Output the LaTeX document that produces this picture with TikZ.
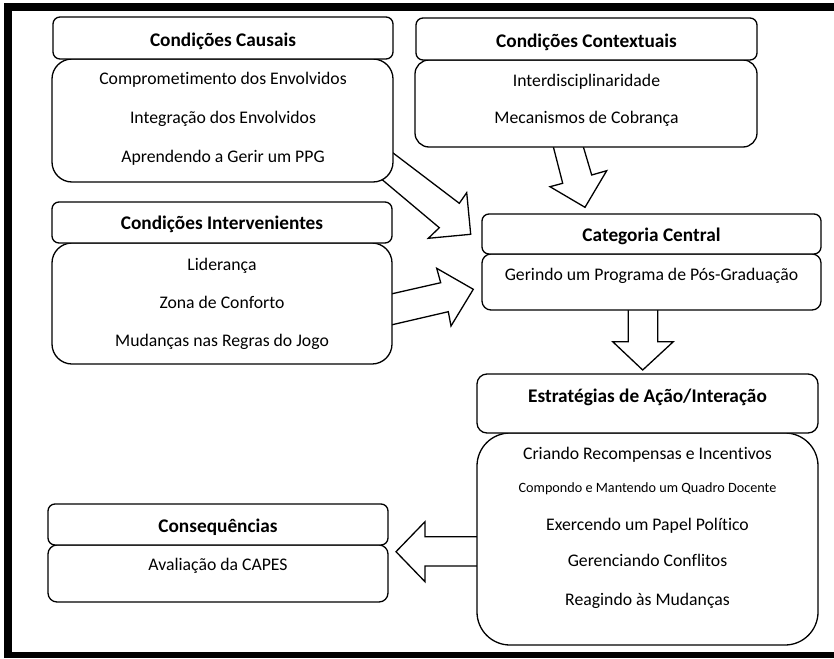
\documentclass[tikz,border=0pt]{standalone}
\usepackage{fontspec}
\setmainfont{Carlito}[Ligatures=NoCommon]
\usetikzlibrary{calc}
\tikzset{
  boxstyle/.style={draw=black, fill=white, line width=1.3pt, inner sep=0pt, outer sep=0pt, rectangle},
  hdrbox/.style={boxstyle, rounded corners=7pt},
  txt/.style={inner sep=0pt, outer sep=0pt, anchor=base, font=\fontsize{17.7}{20}\selectfont},
  smalltxt/.style={inner sep=0pt, outer sep=0pt, anchor=base, font=\fontsize{14.2}{16}\selectfont},
  hdrtxt/.style={inner sep=0pt, outer sep=0pt, anchor=base, font=\fontsize{19.3}{22}\selectfont\bfseries},
  blockarrow/.style={draw=black, fill=white, line width=1.3pt, line join=miter}
}
\begin{document}
\begin{tikzpicture}[x=1pt, y=-1pt]
\fill[white] (0,0) rectangle (834,658);
\useasboundingbox (0,0) rectangle (834,658);
% frame
\fill[black] (4,3) rectangle (834,11);
\fill[black] (4,3) rectangle (12,658);
\fill[black] (4,652) rectangle (834,658);

% block arrows
\filldraw[blockarrow] (553.3,146.7) -- (562.7,183.3) -- (550,186.7) -- (585,207.3) -- (606.7,170.7) -- (591.7,175) -- (583.3,146.7);
\filldraw[blockarrow] (392.7,152.7) -- (459.3,203.3) -- (466.7,192.7) -- (470.7,234.3) -- (428.3,238.3) -- (439.3,227.7) -- (381.7,179.3);
\filldraw[blockarrow] (391,294) -- (440.7,282.7) -- (436.7,268.3) -- (473.3,289.3) -- (451,326) -- (448.3,311.7) -- (391,325);
\filldraw[blockarrow] (628.3,310) -- (628.3,341.7) -- (612.7,341.7) -- (642.7,370) -- (673.3,341.7) -- (657.7,341.7) -- (657.7,310);
\filldraw[blockarrow] (477,536.7) -- (425,536.7) -- (425,521.7) -- (396,551.7) -- (425,581.7) -- (425,566) -- (477,566);

% Condicoes Causais
\node[boxstyle, rounded corners=20pt, minimum width=341pt, minimum height=123pt] (causB) at (222.5,120.5) {};
\node[hdrbox, minimum width=340pt, minimum height=42pt] (causH) at (223,38) {};
\node[hdrtxt] (causT) at (223,47) {Condições Causais};
\node[txt] (caus1) at (223,85) {Comprometimento dos Envolvidos};
\node[txt] (caus2) at (223,123) {Integração dos Envolvidos};
\node[txt] (caus3) at (223,162) {Aprendendo a Gerir um PPG};

% Condicoes Contextuais
\node[boxstyle, rounded corners=14pt, minimum width=342pt, minimum height=87pt] (contB) at (586,103.5) {};
\node[hdrbox, minimum width=341pt, minimum height=42pt] (contH) at (586.5,39) {};
\node[hdrtxt] (contT) at (586.5,48) {Condições Contextuais};
\node[txt] (cont1) at (586.5,86.7) {Interdisciplinaridade};
\node[txt] (cont2) at (586.5,123.3) {Mecanismos de Cobrança};

% Condicoes Intervenientes
\node[boxstyle, rounded corners=20pt, minimum width=340pt, minimum height=121pt] (intB) at (222,303.5) {};
\node[hdrbox, minimum width=340pt, minimum height=41pt] (intH) at (222,222.5) {};
\node[hdrtxt] (intT) at (222,229.3) {Condições Intervenientes};
\node[txt] (int1) at (222,270) {Liderança};
\node[txt] (int2) at (222,308.3) {Zona de Conforto};
\node[txt] (int3) at (222,346.7) {Mudanças nas Regras do Jogo};

% Categoria Central
\node[boxstyle, rounded corners=9pt, minimum width=339pt, minimum height=56pt] (catB) at (651.5,282) {};
\node[hdrbox, minimum width=339pt, minimum height=40pt] (catH) at (651.5,234) {};
\node[hdrtxt] (catT) at (651.5,241.7) {Categoria Central};
\node[txt] (cat1) at (651.5,280) {Gerindo um Programa de Pós-Graduação};

% Estrategias
\node[boxstyle, rounded corners=33pt, minimum width=341pt, minimum height=212pt] (estB) at (647.5,539) {};
\node[hdrbox, rounded corners=10pt, minimum width=341pt, minimum height=59pt] (estH) at (647.5,403.5) {};
\node[hdrtxt] (estT) at (647.5,402.7) {Estratégias de Ação/Interação};
\node[txt] (est1) at (647.5,459) {Criando Recompensas e Incentivos};
\node[smalltxt] (est2) at (647.5,492.3) {Compondo e Mantendo um Quadro Docente};
\node[txt] (est3) at (647.5,530) {Exercendo um Papel Político};
\node[txt] (est4) at (647.5,566.7) {Gerenciando Conflitos};
\node[txt] (est5) at (647.5,605) {Reagindo às Mudanças};

% Consequencias
\node[boxstyle, rounded corners=9pt, minimum width=340pt, minimum height=57pt] (conB) at (218,573.5) {};
\node[hdrbox, minimum width=340pt, minimum height=41pt] (conH) at (218,524.5) {};
\node[hdrtxt] (conT) at (218,532.3) {Consequências};
\node[txt] (con1) at (218,570.7) {Avaliação da CAPES};
\end{tikzpicture}
\end{document}
